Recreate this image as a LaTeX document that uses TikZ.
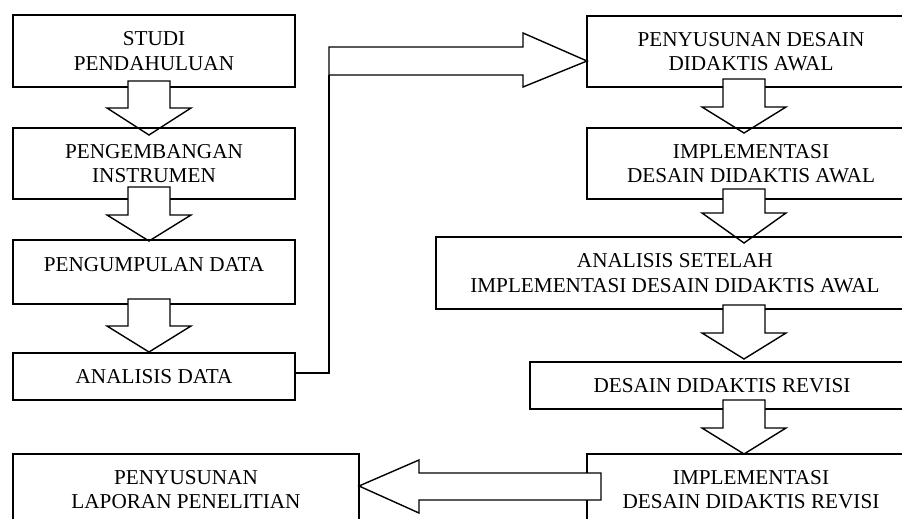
\documentclass[tikz,border=0pt]{standalone}
\usepackage{fontspec}
\setmainfont{Liberation Serif}
\tikzset{
  box/.style={draw=black, line width=1.4pt, rectangle, inner sep=0pt, align=center,
    font=\fontsize{21.2}{24.5}\selectfont},
  fatarrow/.style={draw=black, fill=white, line width=1.4pt, line join=miter},
  link/.style={draw=black, line width=1.4pt}
}
\begin{document}
\begin{tikzpicture}[x=1pt, y=-1pt]
\useasboundingbox (0,0) rectangle (902,519);
\fill[white] (0,0) rectangle (902,519);
\clip (0,0) rectangle (902,519);

% left column
\node[box, minimum width=282pt, minimum height=72pt] (b1) at (154,51) {STUDI\\PENDAHULUAN};
\draw[fatarrow] (128,81) -- (170,81) -- (170,108) -- (191,108) -- (149,135) -- (107,108) -- (128,108) -- cycle;
\node[box, minimum width=282pt, minimum height=71pt] (b2) at (154,163.5) {PENGEMBANGAN\\INSTRUMEN};
\draw[fatarrow] (128,187) -- (170,187) -- (170,215) -- (191,215) -- (149,241) -- (107,215) -- (128,215) -- cycle;
\node[box, minimum width=282pt, minimum height=64pt, text depth=16pt] (b3) at (154,272) {PENGUMPULAN DATA};
\draw[fatarrow] (128,299) -- (170,299) -- (170,326) -- (191,326) -- (149,352) -- (107,326) -- (128,326) -- cycle;
\node[box, minimum width=282pt, minimum height=47pt] (b4) at (154,376.5) {ANALISIS DATA};

% connector to right column
\coordinate (c1) at (329,75);
\draw[link] ([yshift=3.5pt]b4.east) -| (c1);
\draw[fatarrow] (329,47) -- (523,47) -- (523,33) -- (587,61) -- (523,87) -- (523,75) -- (329,75) -- cycle;

% right column
\node[box, minimum width=328pt, minimum height=71pt] (b6) at (751,51.5) {PENYUSUNAN DESAIN\\DIDAKTIS AWAL};
\draw[fatarrow] (723,79) -- (765,79) -- (765,107) -- (786,107) -- (744,133) -- (702,107) -- (723,107) -- cycle;
\node[box, minimum width=328pt, minimum height=71pt] (b7) at (751,163.5) {IMPLEMENTASI\\DESAIN DIDAKTIS AWAL};
\draw[fatarrow] (723,189) -- (765,189) -- (765,213) -- (786,213) -- (744,243) -- (702,213) -- (723,213) -- cycle;
\node[box, minimum width=478pt, minimum height=72pt] (b8) at (675,273) {ANALISIS SETELAH\\IMPLEMENTASI DESAIN DIDAKTIS AWAL};
\draw[fatarrow] (723,305) -- (765,305) -- (765,333) -- (786,333) -- (744,359) -- (702,333) -- (723,333) -- cycle;
\node[box, minimum width=384pt, minimum height=47pt] (b9) at (722,385.5) {DESAIN DIDAKTIS REVISI};
\draw[fatarrow] (723,400) -- (765,400) -- (765,428) -- (786,428) -- (744,454) -- (702,428) -- (723,428) -- cycle;
\node[box, minimum width=328pt, minimum height=71pt] (b10) at (751,489.5) {IMPLEMENTASI\\DESAIN DIDAKTIS REVISI};

% bottom arrow back to left
\draw[fatarrow] (601,473) -- (419,473) -- (419,460) -- (359,486) -- (419,513) -- (419,500) -- (601,500) -- cycle;
\node[box, minimum width=346pt, minimum height=71pt] (b5) at (186,489.5) {PENYUSUNAN\\LAPORAN PENELITIAN};
\end{tikzpicture}
\end{document}
